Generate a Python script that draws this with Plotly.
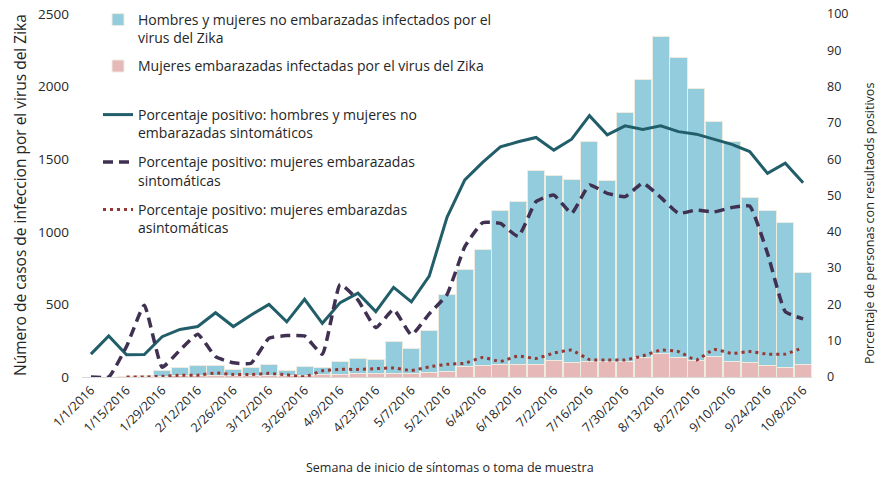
import plotly.graph_objects as go

weeks = ["1/1/2016", "1/8/2016", "1/15/2016", "1/22/2016", "1/29/2016", "2/5/2016",
         "2/12/2016", "2/19/2016", "2/26/2016", "3/5/2016", "3/12/2016", "3/19/2016",
         "3/26/2016", "4/2/2016", "4/9/2016", "4/16/2016", "4/23/2016", "4/30/2016",
         "5/7/2016", "5/14/2016", "5/21/2016", "5/28/2016", "6/4/2016", "6/11/2016",
         "6/18/2016", "6/25/2016", "7/2/2016", "7/9/2016", "7/16/2016", "7/23/2016",
         "7/30/2016", "8/6/2016", "8/13/2016", "8/20/2016", "8/27/2016", "9/3/2016",
         "9/10/2016", "9/17/2016", "9/24/2016", "10/1/2016", "10/8/2016"]

tick_labels = ["1/1/2016", "1/15/2016", "1/29/2016", "2/12/2016", "2/26/2016", "3/12/2016",
               "3/26/2016", "4/9/2016", "4/23/2016", "5/7/2016", "5/21/2016", "6/4/2016",
               "6/18/2016", "7/2/2016", "7/16/2016", "7/30/2016", "8/13/2016", "8/27/2016",
               "9/10/2016", "9/24/2016", "10/8/2016"]

# Casos: hombres y mujeres no embarazadas (parte azul de la barra)
no_embarazadas = [0, 0, 5, 8, 38, 59, 66, 66, 45, 54, 75, 38, 59, 53, 90, 107, 102, 218,
                  171, 289, 528, 666, 805, 1062, 1127, 1334, 1270, 1260, 1520, 1247, 1715,
                  1917, 2181, 2066, 1877, 1618, 1515, 1135, 1072, 999, 635]

# Casos: mujeres embarazadas (parte rosa de la barra)
embarazadas = [0, 0, 0, 2, 5, 8, 10, 10, 8, 10, 12, 10, 12, 14, 20, 22, 22, 25, 22, 28,
               37, 71, 76, 83, 83, 87, 117, 101, 105, 105, 105, 135, 163, 136, 111, 140,
               110, 98, 78, 64, 83]

# Porcentaje positivo (eje derecho)
pct_no_emb_sint = [6.3, 11.3, 6.1, 6.2, 11.1, 13.1, 13.9, 17.7, 13.9, 17.1, 20.0, 15.2,
                   21.4, 14.8, 20.5, 23.1, 18.0, 24.7, 20.7, 27.8, 44.0, 54.3, 59.1, 63.4,
                   64.8, 66.0, 62.5, 65.5, 72.0, 66.7, 69.2, 68.2, 69.2, 67.6, 66.9, 65.5,
                   64.1, 62.1, 56.1, 58.9, 53.5]

pct_emb_sint = [0, 0, 8.4, 19.8, 2.7, 7.4, 11.8, 5.6, 3.9, 3.8, 10.7, 11.4, 11.3, 6.3,
                25.5, 21.2, 13.6, 18.6, 11.6, 17.4, 22.7, 35.9, 42.5, 42.3, 38.7, 48.3,
                50.1, 45.1, 52.9, 50.6, 49.7, 53.4, 49.5, 45.1, 46.0, 45.5, 46.7, 47.1,
                34.1, 18.0, 16.0]

pct_emb_asint = [None, None, 0, 0, 0.2, 0.5, 0.5, 1.1, 0.7, 0.7, 1.0, 0.6, 0.1, 1.7, 2.1,
                 2.1, 2.3, 2.5, 1.8, 2.8, 3.5, 3.8, 5.4, 4.3, 5.8, 5.1, 6.6, 7.4, 4.8, 4.7,
                 4.7, 5.8, 7.4, 7.0, 4.7, 7.6, 6.5, 7.0, 6.3, 6.3, 8.1]

FONT = "Open Sans"
TXT = "#262626"

fig = go.Figure()

fig.add_trace(go.Bar(
    x=weeks, y=embarazadas, name="Mujeres embarazadas infectadas por el virus del Zika",
    marker=dict(color="#E6B9B8", line=dict(color="#EEECE1", width=1)),
    legend="legend", legendgroup="b", legendrank=2))
fig.add_trace(go.Bar(
    x=weeks, y=no_embarazadas,
    name="Hombres y mujeres no embarazadas infectados por el<br>virus del Zika",
    marker=dict(color="#93CDDD", line=dict(color="#EEECE1", width=1)),
    legend="legend", legendgroup="a", legendrank=1))

fig.add_trace(go.Scatter(
    x=weeks, y=pct_no_emb_sint, yaxis="y2", mode="lines",
    name="Porcentaje positivo: hombres y mujeres no<br>embarazadas sintomáticos",
    line=dict(color="#215E69", width=3),
    legend="legend2", legendgroup="c", legendrank=3))
fig.add_trace(go.Scatter(
    x=weeks, y=pct_emb_sint, yaxis="y2", mode="lines",
    name="Porcentaje positivo: mujeres embarazadas<br>sintomáticas",
    line=dict(color="#403152", width=3.5, dash="10px,6px", shape="spline", smoothing=0.4),
    legend="legend2", legendgroup="d", legendrank=4))
fig.add_trace(go.Scatter(
    x=weeks, y=pct_emb_asint, yaxis="y2", mode="lines",
    name="Porcentaje positivo: mujeres embarazdas<br>asintomáticas",
    line=dict(color="#953735", width=3, dash="3px,4px", shape="spline", smoothing=0.4),
    legend="legend2", legendgroup="e", legendrank=5))

# Page body margin is removed (post_script below), so the figure fills the window.
W, H = 885, 481
L, R, T, B = 82, 73, 14, 104
pw, ph = W - L - R, H - T - B

def px_x(p):  # page pixel -> paper fraction
    return (p - L) / pw

def px_y(p):
    return (H - B - p) / ph

fig.update_layout(
    width=W, height=H, autosize=False,
    margin=dict(l=L, r=R, t=T, b=B, autoexpand=False),
    paper_bgcolor="white", plot_bgcolor="white",
    barmode="stack", bargap=0.04,
    font=dict(family=FONT, size=13, color=TXT),
    xaxis=dict(type="category", categoryorder="array", categoryarray=weeks,
               tickvals=tick_labels, ticktext=tick_labels, tickangle=-45,
               tickfont=dict(size=12.5, color=TXT), showgrid=False, zeroline=False,
               showline=True, linecolor="#D9D9D9", linewidth=1, ticks="",
               range=[-0.5, len(weeks) - 0.5], automargin=False),
    yaxis=dict(range=[0, 2500], dtick=500, showgrid=False, zeroline=False, showline=False,
               ticks="", tickfont=dict(size=13.5, color=TXT), ticklabelstandoff=12,
               automargin=False, ticklabeloverflow="allow"),
    yaxis2=dict(range=[0, 100], dtick=10, overlaying="y", side="right", showgrid=False,
                zeroline=False, showline=False, ticks="",
                tickfont=dict(size=12.5, color=TXT), ticklabelstandoff=14,
                automargin=False, ticklabeloverflow="allow"),
    legend=dict(x=px_x(98), y=px_y(4), xanchor="left", yanchor="top",
                bgcolor="rgba(0,0,0,0)", font=dict(size=14, color=TXT),
                tracegroupgap=7, valign="top", itemwidth=30, traceorder="grouped"),
    legend2=dict(x=px_x(98), y=px_y(99), xanchor="left", yanchor="top",
                 bgcolor="rgba(0,0,0,0)", font=dict(size=14, color=TXT),
                 tracegroupgap=8, valign="top", itemwidth=30, traceorder="grouped"),
    annotations=[
        dict(text="Número de casos de infeccion por el virus del Zika", textangle=-90,
             xref="paper", yref="paper", x=px_x(20), y=px_y(195), showarrow=False,
             font=dict(size=15.5, color=TXT), xanchor="center", yanchor="middle"),
        dict(text="Porcentaje de personas con resultaods positivos", textangle=-90,
             xref="paper", yref="paper", x=px_x(869), y=px_y(224), showarrow=False,
             font=dict(size=12.5, color=TXT), xanchor="center", yanchor="middle"),
        dict(text="Semana de inicio de síntomas o toma de muestra",
             xref="paper", yref="paper", x=px_x(450), y=px_y(467), showarrow=False,
             font=dict(size=12.5, color=TXT), xanchor="center", yanchor="middle"),
    ],
    showlegend=True,
)

fig.write_html("out.html",
               config={"displayModeBar": False},
               post_script="document.body.style.margin='0px';"
                           "document.documentElement.style.overflow='hidden';")
